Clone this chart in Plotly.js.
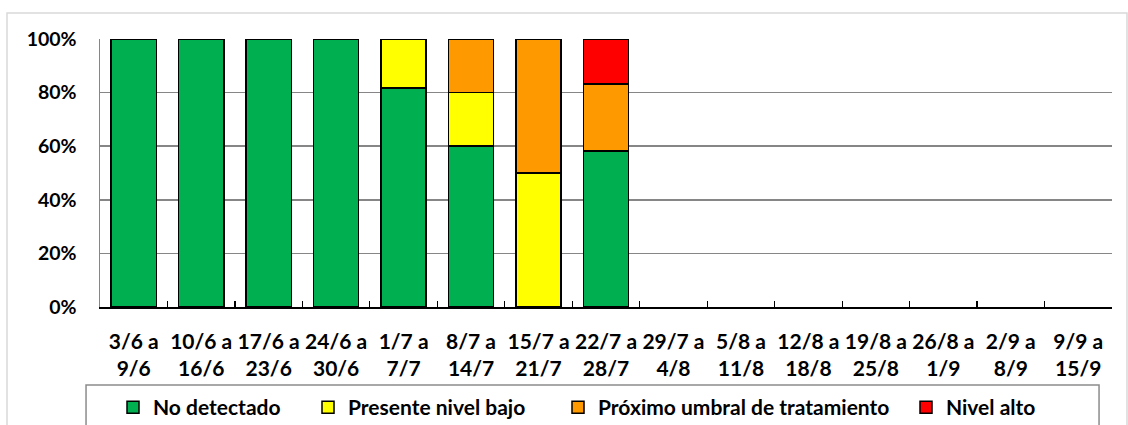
<!DOCTYPE html>
<html><head><meta charset="utf-8">
<script src="https://cdn.plot.ly/plotly-3.0.1.min.js"></script>
<style>html,body{margin:0;padding:0;background:#fff;}#chart{width:1128px;height:425px;}</style>
</head><body><div id="chart"></div>
<script>
const categories = ["3/6 a<br>9/6","10/6 a<br>16/6","17/6 a<br>23/6","24/6 a<br>30/6","1/7 a<br>7/7","8/7 a<br>14/7","15/7 a<br>21/7","22/7 a<br>28/7","29/7 a<br>4/8","5/8 a<br>11/8","12/8 a<br>18/8","19/8 a<br>25/8","26/8 a<br>1/9","2/9 a<br>8/9","9/9 a<br>15/9"];
const noDetectado   = [100,100,100,100,81.8,60,0,58.3,null,null,null,null,null,null,null];
const presenteBajo  = [0,0,0,0,18.2,20,50,0,null,null,null,null,null,null,null];
const proximoUmbral = [0,0,0,0,0,20,50,25,null,null,null,null,null,null,null];
const nivelAlto     = [0,0,0,0,0,0,0,16.7,null,null,null,null,null,null,null];
const seriesNames = ["No detectado","Presente nivel bajo","Próximo umbral de tratamiento","Nivel alto"];
const colors = ["#00B050","#FFFF00","#FF9900","#FF0000"];
const vals = [noDetectado,presenteBajo,proximoUmbral,nivelAlto];
const legendIds = ["legend","legend2","legend3","legend4"];
const markerLeft = [128,323,573,921];
const fam = "Lato, 'Liberation Sans', sans-serif";
const yFont = {family:fam, size:19.5, color:"#000", weight:"bold"};
const xFont = {family:fam, size:21, color:"#000", weight:"bold"};
const legFont = {family:fam, size:21, color:"#000", weight:"bold"};
const traces = vals.map((v,i)=>({
  type:"bar", x:categories, y:v.map(a=>a===0?null:a), name:seriesNames[i],
  legend:legendIds[i],
  marker:{color:colors[i], line:{color:"#000", width:1.5}},
  hoverinfo:"y+name"
}));
const layout = {
  width:1128, height:425,
  margin:{l:100,r:16,t:39,b:118},
  barmode:"stack", bargap:0.33,
  paper_bgcolor:"#fff", plot_bgcolor:"#fff",
  font:yFont,
  showlegend:true,
  xaxis:{type:"category", showline:true, linecolor:"#000", linewidth:1.5,
    ticks:"inside", tickson:"boundaries", ticklen:6, tickcolor:"#000", tickwidth:1.2,
    showgrid:false, tickfont:xFont, tickangle:0, ticklabelstandoff:15, fixedrange:true},
  yaxis:{range:[0,100], tickvals:[0,20,40,60,80,100], ticktext:["0%","20%","40%","60%","80%","100%"],
    showgrid:true, gridcolor:"#868686", gridwidth:1.5, showline:true, linecolor:"#868686", linewidth:1.5,
    ticks:"", ticklabelstandoff:18, tickfont:yFont, zeroline:false, fixedrange:true},
  shapes:[
    {type:"rect", xref:"paper", yref:"paper", x0:-0.0919, x1:1.0148, y0:-0.6, y1:1.097,
      line:{color:"#d9d9d9", width:1.5}, layer:"below"},
    {type:"rect", xref:"paper", yref:"paper", x0:-0.0138, x1:0.9872, y0:-0.6, y1:-0.291,
      line:{color:"#8c8c8c", width:1.5}, layer:"below"}
  ]
};
legendIds.forEach((id,i)=>{
  layout[id] = {orientation:"h", xref:"container", yref:"container",
    x:(markerLeft[i]-15)/1128, xanchor:"left", y:1-387/425, yanchor:"top",
    borderwidth:0, bgcolor:"rgba(0,0,0,0)", font:legFont};
});
Plotly.newPlot("chart", traces, layout, {displayModeBar:false, staticPlot:true});
</script></body></html>
